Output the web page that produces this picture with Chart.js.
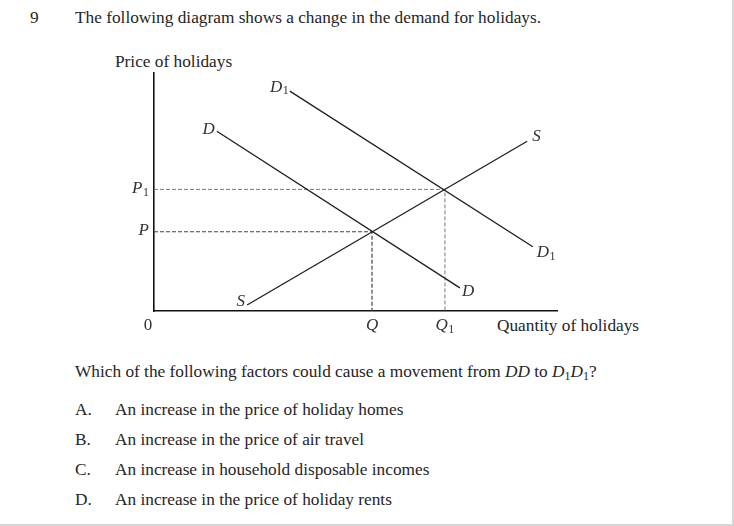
<!DOCTYPE html>
<html>
<head>
<meta charset="utf-8">
<script src="https://cdn.jsdelivr.net/npm/chart.js@4.4.1/dist/chart.umd.min.js"></script>
<style>
  html,body{margin:0;padding:0;background:#fff;}
  body{width:734px;height:526px;position:relative;overflow:hidden;font-family:"Liberation Serif","DejaVu Serif",serif;color:#262626;}
  .frame{position:absolute;left:0;top:0;width:732px;height:524px;border-right:2px solid #d6d6d6;border-bottom:2px solid #d6d6d6;}
  .t{position:absolute;white-space:nowrap;font-size:17.3px;line-height:20px;}
  .i{font-style:italic;}
  .s{font-size:12px;vertical-align:-3px;}
  #wrap{position:absolute;left:0;top:40px;width:734px;height:300px;}
</style>
</head>
<body>
<div class="frame"></div>
<div class="t" style="left:30px;top:8px;">9</div>
<div class="t" style="left:75px;top:8px;">The following diagram shows a change in the demand for holidays.</div>
<div class="t" style="left:115px;top:52px;">Price of holidays</div>
<div class="t" style="left:497px;top:316px;">Quantity of holidays</div>
<div id="wrap"><canvas id="c"></canvas></div>
<div class="t" style="left:75px;top:362px;">Which of the following factors could cause a movement from <span class="i">DD</span> to <span class="i">D</span><span class="s">1</span><span class="i">D</span><span class="s">1</span>?</div>
<div class="t" style="left:75px;top:400px;">A.</div><div class="t" style="left:115px;top:400px;">An increase in the price of holiday homes</div>
<div class="t" style="left:75px;top:430px;">B.</div><div class="t" style="left:115px;top:430px;">An increase in the price of air travel</div>
<div class="t" style="left:75px;top:460px;">C.</div><div class="t" style="left:115px;top:460px;">An increase in household disposable incomes</div>
<div class="t" style="left:75px;top:490px;">D.</div><div class="t" style="left:115px;top:490px;">An increase in the price of holiday rents</div>
<script>
// curves (quantity, price) on a 0-100 scale
const supplyS = [{x:23.1,y:2.5},{x:92.6,y:71.3}];
const demandD = [{x:15.6,y:75.5},{x:75.9,y:9.7}];
const demandD1 = [{x:33.7,y:92.4},{x:94.0,y:27.0}];
const eqOld = {x:54.1,y:33.3};
const eqNew = {x:72.2,y:51.1};
const xTickVals = [0, eqOld.x, eqNew.x];
const xTickLabels = [['0',''],['Q',''],['Q','1']];
const yTickVals = [eqOld.y, eqNew.y];
const yTickLabels = [['P',''],['P','1']];
// curve end labels: [dataset index, point index, letter, subscript, align, dx, dy]
const curveLabels = [
  [0,0,'S','','right',-2,-4],
  [0,1,'S','','left',5,-5],
  [1,0,'D','','right',-2,-2],
  [1,1,'D','','left',2,4],
  [2,0,'D','1','right',-1,-4],
  [2,1,'D','1','left',4,6],
];

const serif = '"Liberation Serif","DejaVu Serif",serif';

function drawSub(ctx, main, sub, x, y, align, italic){
  const mf = (italic ? 'italic ' : '') + '17px ' + serif;
  const sf = '12px ' + serif;
  ctx.font = mf; const mw = ctx.measureText(main).width;
  ctx.font = sf; const sw = sub ? ctx.measureText(sub).width + 0.5 : 0;
  const w = mw + sw;
  let x0 = align==='right' ? x - w : align==='center' ? x - w/2 : x;
  ctx.textAlign = 'left';
  ctx.font = mf; ctx.fillText(main, x0, y);
  if (sub){ ctx.font = sf; ctx.fillText(sub, x0 + mw + 0.5, y + 4); }
}

const labelPlugin = {
  id:'curveLabels',
  afterDatasetsDraw(chart){
    const {ctx, scales:{x,y}} = chart;
    ctx.save();
    ctx.fillStyle = '#333';
    ctx.textBaseline = 'middle';
    curveLabels.forEach(([di,pi,txt,sub,al,dx,dy])=>{
      const p = chart.data.datasets[di].data[pi];
      drawSub(ctx, txt, sub, x.getPixelForValue(p.x)+dx, y.getPixelForValue(p.y)+dy, al, true);
    });
    // tick labels placed from the scales
    xTickVals.forEach((v,i)=>{
      const [m,s] = xTickLabels[i];
      drawSub(ctx, m, s, x.getPixelForValue(v) - (i===0?6:0), y.bottom + 15, 'center', i!==0);
    });
    yTickVals.forEach((v,i)=>{
      const [m,s] = yTickLabels[i];
      drawSub(ctx, m, s, x.left - 5, y.getPixelForValue(v) - 1, 'right', true);
    });
    ctx.restore();
  }
};

const lineDs = (data) => ({data, borderColor:'#1e1e1e', borderWidth:1.3, pointRadius:0, fill:false, tension:0});

new Chart(document.getElementById('c'), {
  type:'line',
  data:{datasets:[
    lineDs(supplyS),
    lineDs(demandD),
    lineDs(demandD1),
    {data:[{x:0,y:eqOld.y},eqOld,{x:eqOld.x,y:0}], borderColor:'#444', borderWidth:1.2, borderDash:[4,2], pointRadius:0, fill:false},
    {data:[{x:0,y:eqNew.y},eqNew,{x:eqNew.x,y:0}], borderColor:'#777', borderWidth:1, borderDash:[4,2], pointRadius:0, fill:false},
  ]},
  options:{
    responsive:true, maintainAspectRatio:false, animation:false,
    layout:{padding:{left:0,top:33,right:177,bottom:0}},
    plugins:{legend:{display:false}, tooltip:{enabled:false}},
    scales:{
      x:{type:'linear', min:0, max:100,
        grid:{display:false, drawTicks:false},
        border:{display:true,color:'#111',width:1.6},
        afterBuildTicks:(s)=>{ s.ticks = xTickVals.map(v=>({value:v})); },
        afterFit:(s)=>{ s.height = 29; },
        ticks:{display:false}
      },
      y:{type:'linear', min:0, max:100,
        grid:{display:false, drawTicks:false},
        border:{display:true,color:'#111',width:1.6},
        afterBuildTicks:(s)=>{ s.ticks = yTickVals.map(v=>({value:v})); },
        afterFit:(s)=>{ s.width = 154; },
        ticks:{display:false}
      }
    }
  },
  plugins:[labelPlugin]
});
</script>
</body>
</html>
